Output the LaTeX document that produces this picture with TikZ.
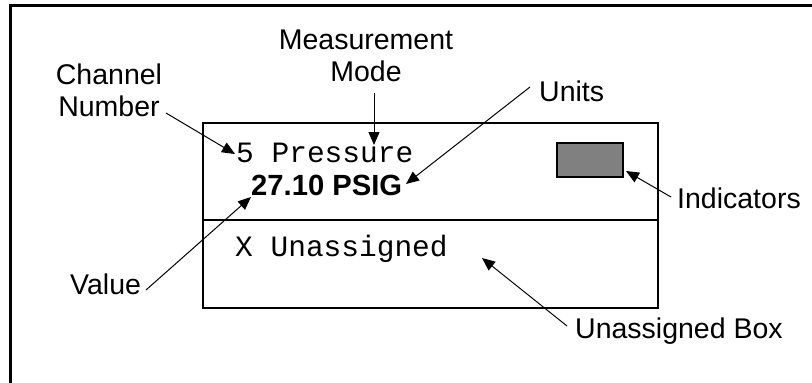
\documentclass[tikz,border=0pt]{standalone}
\usepackage{fontspec}
\setmainfont{Liberation Sans}
\newfontfamily\monofont{Liberation Mono}
\usetikzlibrary{arrows.meta}
\begin{document}
\begin{tikzpicture}[x=1pt,y=-1pt,
  lbl/.style={inner sep=0pt,font=\fontsize{28.5}{32}\selectfont},
  mono/.style={inner sep=0pt,font=\monofont\fontsize{29.5}{32}\selectfont},
  boldval/.style={inner sep=0pt,font=\bfseries\fontsize{29.2}{32}\selectfont},
  pointer/.style={line width=1pt,-{Triangle[length=13pt,width=11pt]}},
  frameline/.style={line width=3pt},
  boxline/.style={line width=2pt}]
\useasboundingbox (0,0) rectangle (812,383);
% outer frame (only top and left edges visible)
\draw[frameline] (10.5,383) -- (10.5,5.5) -- (812,5.5);
% display box
\draw[boxline] (202.5,122.5) rectangle (658,307.5);
\draw[boxline] (202.5,220) -- (658,220);
% indicator
\node[draw,line width=2pt,fill=gray,minimum width=66pt,minimum height=34pt,inner sep=0pt] (ind) at (590,160) {};
% display texts
\node[mono,anchor=base west] (chan) at (236,162) {5 Pressure};
\node[boldval,anchor=base west] (val) at (251,195) {27.10 PSIG};
\node[mono,anchor=base west] (unas) at (235,256) {X Unassigned};
% labels
\node[lbl,anchor=base,align=center] (mm) at (366,81) {Measurement\\Mode};
\node[lbl,anchor=base,align=center] (cn) at (109,116) {Channel\\Number};
\node[lbl,anchor=base west] (units) at (539,101) {Units};
\node[lbl,anchor=base west] (indl) at (677,208) {Indicators};
\node[lbl,anchor=base west] (valuel) at (70,294) {Value};
\node[lbl,anchor=base west] (unbox) at (575,338) {Unassigned Box};
% arrow endpoints
\coordinate (cnS) at (166,113);
\coordinate (cnT) at (235,154);
\coordinate (mmS) at (374,93);
\coordinate (mmT) at (374,145);
\coordinate (unS) at (530,87);
\coordinate (unT) at (406,184);
\coordinate (inS) at (671,197);
\coordinate (inT) at (626,171);
\coordinate (vaS) at (146,290);
\coordinate (vaT) at (251,197);
\coordinate (ubS) at (567,326);
\coordinate (ubT) at (482,258);
\draw[pointer] (cnS) -- (cnT);
\draw[pointer] (mmS) -- (mmT);
\draw[pointer] (unS) -- (unT);
\draw[pointer] (inS) -- (inT);
\draw[pointer] (vaS) -- (vaT);
\draw[pointer] (ubS) -- (ubT);
\end{tikzpicture}
\end{document}
